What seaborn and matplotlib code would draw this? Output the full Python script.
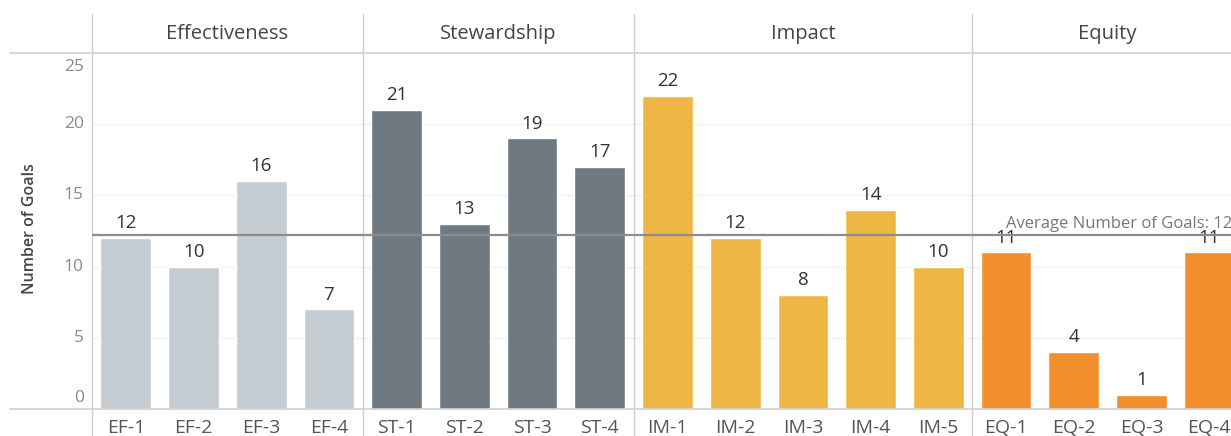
import matplotlib.pyplot as plt
import seaborn as sns
import pandas as pd
from matplotlib.lines import Line2D

groups = ["Effectiveness", "Stewardship", "Impact", "Equity"]
codes = [
    ["EF-1", "EF-2", "EF-3", "EF-4"],
    ["ST-1", "ST-2", "ST-3", "ST-4"],
    ["IM-1", "IM-2", "IM-3", "IM-4", "IM-5"],
    ["EQ-1", "EQ-2", "EQ-3", "EQ-4"],
]
goals = [
    [12, 10, 16, 7],
    [21, 13, 19, 17],
    [22, 12, 8, 14, 10],
    [11, 4, 1, 11],
]
colors = {"Effectiveness": "#C5CDD3", "Stewardship": "#6E7981",
          "Impact": "#EEB745", "Equity": "#F28E2E"}

rows = []
for g, cs, vs in zip(groups, codes, goals):
    for c, v in zip(cs, vs):
        rows.append({"group": g, "code": c, "goals": v})
df = pd.DataFrame(rows)
avg = df["goals"].mean()

sns.set_style("white")
plt.rcParams["font.family"] = ["Open Sans", "DejaVu Sans"]

W, H = 1231, 436
fig = plt.figure(figsize=(W / 100, H / 100), dpi=100)

# plot area in pixels (panel runs past the right edge like the source)
x0, x1 = 92, 1243
y_top, y_base = 53, 409
ax = fig.add_axes([x0 / W, (H - y_base) / H, (x1 - x0) / W, (y_base - y_top) / H])

sns.barplot(data=df, x="code", y="goals", hue="group", palette=colors,
            dodge=False, width=0.75, legend=False, ax=ax, saturation=1)

ax.set_xlim(-0.5, len(df) - 0.5)
ax.set_ylim(0, 25)
ax.set_yticks([0, 5, 10, 15, 20, 25])
ax.set_yticklabels([])
for t in [5, 10, 15, 20]:
    ax.axhline(t, color="#F0F0F0", lw=1, zorder=0)
for s in ax.spines.values():
    s.set_visible(False)

# y tick labels (Tableau nudges the end labels inside)
for t in [0, 5, 10, 15, 20, 25]:
    y = t
    if t == 0:
        y = 0.8
    if t == 25:
        y = 24.0
    ax.text(-0.62, y, str(t), ha="right", va="center", fontsize=12.5,
            color="#8A8A8A", clip_on=False)

ax.set_xlabel("")
ax.set_ylabel("")
ax.tick_params(axis="x", length=0, pad=7, labelsize=14, labelcolor="#555555")
ax.tick_params(axis="y", length=0)

fig.text(30 / W, (H - 229) / H, "Number of Goals", rotation=90, ha="center",
         va="center", fontsize=11.5, color="#444444", fontweight="semibold")

# value labels
for i, v in enumerate(df["goals"]):
    ax.text(i, v + 0.4, str(v), ha="center", va="bottom", fontsize=13.5,
            color="#333333")

# average reference line
ax.axhline(avg, color="#8C8C8C", lw=1.6, zorder=5)
ax.text(13.0, avg + 0.2, "Average Number of Goals: %.2f" % avg,
        ha="left", va="bottom", fontsize=12, color="#777777",
        clip_on=False, zorder=6)

# panel separators and headers
line_c = "#D0D0D0"
bounds = [-0.5]
for cs in codes:
    bounds.append(bounds[-1] + len(cs))
span = y_base - y_top
for b in bounds[:-1]:
    ax.axvline(b, ymin=-(H - y_base) / span, ymax=(y_base - 14) / span,
               color=line_c, lw=1, clip_on=False, zorder=0)
for g, a, b in zip(groups, bounds[:-1], bounds[1:]):
    ax.text((a + b) / 2, 25 + 19 / span * 25, g, ha="center", va="center",
            fontsize=14.5, color="#444444", clip_on=False)

fig.add_artist(Line2D([10 / W, 1], [(H - y_top) / H] * 2, color=line_c, lw=1.2))
fig.add_artist(Line2D([10 / W, 1], [(H - y_base) / H] * 2, color=line_c, lw=1.2))

fig.savefig("out.png", dpi=100)
